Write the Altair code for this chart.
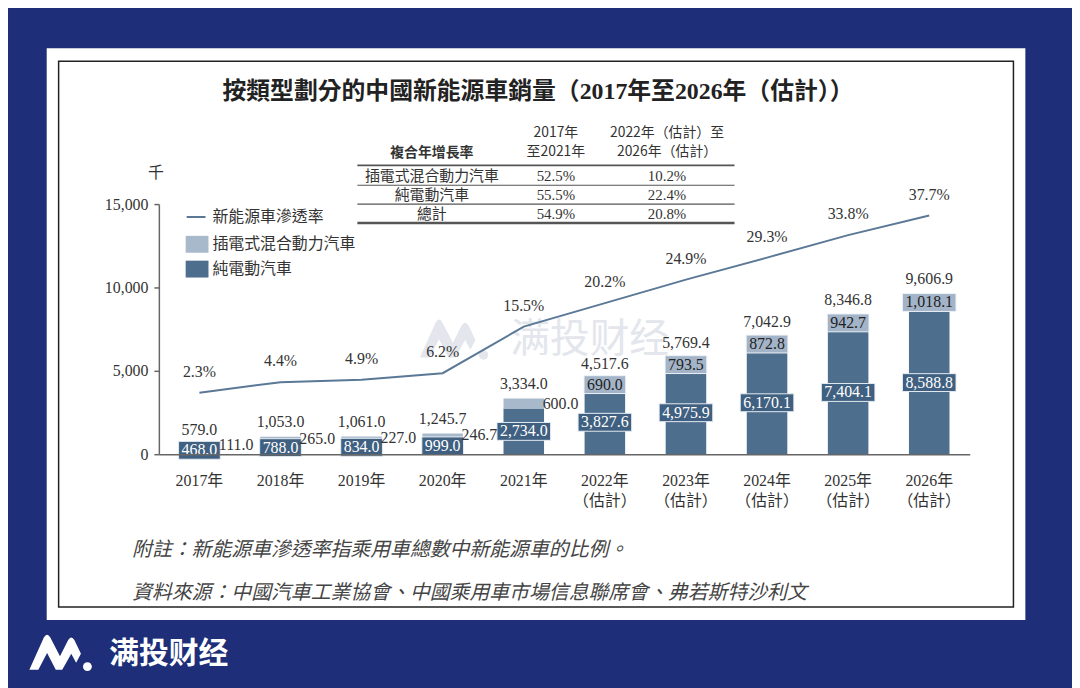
import altair as alt
import pandas as pd

# ---------------- data ----------------
years = ["2017年", "2018年", "2019年", "2020年", "2021年",
         "2022年|（估計）", "2023年|（估計）", "2024年|（估計）", "2025年|（估計）", "2026年|（估計）"]
bev = [468.0, 788.0, 834.0, 999.0, 2734.0, 3827.6, 4975.9, 6170.1, 7404.1, 8588.8]
phev = [111.0, 265.0, 227.0, 246.7, 600.0, 690.0, 793.5, 872.8, 942.7, 1018.1]
total = [579.0, 1053.0, 1061.0, 1245.7, 3334.0, 4517.6, 5769.4, 7042.9, 8346.8, 9606.9]
rate = [2.3, 4.4, 4.9, 6.2, 15.5, 20.2, 24.9, 29.3, 33.8, 37.7]
y_ticks = [0, 5000, 10000, 15000]

title_text = "按類型劃分的中國新能源車銷量（2017年至2026年（估計））"
legend_labels = ["新能源車滲透率", "插電式混合動力汽車", "純電動汽車"]
unit_label = "千"
table_head = ["複合年增長率", "2017年", "至2021年", "2022年（估計）至", "2026年（估計）"]
table_rows = ["插電式混合動力汽車", "純電動汽車", "總計"]
cagr_17_21 = ["52.5%", "55.5%", "54.9%"]
cagr_22_26 = ["10.2%", "22.4%", "20.8%"]
note_text = "附註：新能源車滲透率指乘用車總數中新能源車的比例。"
source_text = "資料來源：中國汽車工業協會、中國乘用車市場信息聯席會、弗若斯特沙利文"
brand_text = "满投财经"

# ---------------- styling ----------------
SERIF = "Liberation Serif, Noto Sans CJK TC"
CJK = "Noto Sans CJK TC"
BEV_C = "#4e6e8e"
PHEV_C = "#a9b9cc"
LINE_C = "#5b7896"
TXT = "#333333"
NAVY = "#1e2e78"
W, H = 817, 252
FS = 16


def text_w(s, fs=FS):
    return sum(0.5 if c.isdigit() else 0.25 for c in s) * fs


def box_shape(s, h=18, pad=6):
    w = text_w(s) + pad
    r = h / w
    return f"M-1,-{r:.4f} L1,-{r:.4f} L1,{r:.4f} L-1,{r:.4f} Z", w * w


df = pd.DataFrame({"lab": years, "bev": bev, "phev": phev, "total": total, "rate": rate})
df["bev_mid"] = df["bev"] / 2
df["phev_mid"] = (df["bev"] + df["total"]) / 2
df["bev_txt"] = [f"{v:,.1f}" for v in bev]
df["phev_txt"] = [f"{v:,.1f}" for v in phev]
df["tot_txt"] = [f"{v:,.1f}" for v in total]
df["rate_txt"] = [f"{v:.1f}%" for v in rate]
df["bev_shp"] = [box_shape(s)[0] for s in df["bev_txt"]]
df["bev_sz"] = [box_shape(s)[1] for s in df["bev_txt"]]
df["phev_shp"] = [box_shape(s)[0] for s in df["phev_txt"]]
df["phev_sz"] = [box_shape(s)[1] for s in df["phev_txt"]]
df["inner"] = [i >= 5 for i in range(len(years))]

base = alt.Chart(df)
X = alt.X("lab:N", sort=years,
          scale=alt.Scale(paddingInner=0.5, paddingOuter=0.25),
          axis=alt.Axis(title=None, labelAngle=0, ticks=False, domainColor="#666666",
                        domainWidth=1.5, labelExpr="split(datum.label, '|')",
                        labelFont=SERIF, labelFontSize=FS, labelColor=TXT,
                        labelPadding=19, labelLineHeight=20, zindex=1))
YS = alt.Scale(domain=[0, 15000])
RS = alt.Scale(domain=[-10, 40])


def yc(field, axis=None):
    return alt.Y(field, scale=YS, axis=axis)


one = pd.DataFrame({"t": [0]})


def txt(s, x, y, size=FS, align="center", font=SERIF, color=TXT, **kw):
    return alt.Chart(pd.DataFrame({"t": [s]})).mark_text(
        align=align, baseline="middle", font=font, fontSize=size, color=color, **kw
    ).encode(x=alt.value(x), y=alt.value(y), text="t:N")


def hrule(x1, x2, y, width=1.0, color="#555555"):
    return alt.Chart(one).mark_rule(color=color, strokeWidth=width).encode(
        x=alt.value(x1), x2=alt.value(x2), y=alt.value(y))


layers = []

# page panel and frame
layers.append(alt.Chart(one).mark_rect(fill="white").encode(
    x=alt.value(-113), x2=alt.value(873), y=alt.value(-157), y2=alt.value(419)))
layers.append(alt.Chart(one).mark_rect(fill="transparent", stroke="#222222", strokeWidth=1.5).encode(
    x=alt.value(-101), x2=alt.value(861), y=alt.value(-144), y2=alt.value(406)))

# watermark
LOGO = ("M-1,0.5 L-0.55,-0.5 Q-0.45,-0.68 -0.35,-0.5 L-0.05,0.08 L0.2,-0.42 "
        "Q0.3,-0.58 0.4,-0.42 L0.6,0.0 L0.45,0.28 L0.3,0.0 L0.02,0.5 L-0.18,0.5 "
        "L-0.45,-0.02 L-0.72,0.5 Z")
layers.append(alt.Chart(one).mark_point(shape=LOGO, filled=True, color="#e3e6ec", opacity=1, size=4900).encode(
    x=alt.value(298), y=alt.value(137)))
layers.append(alt.Chart(one).mark_point(shape="circle", filled=True, color="#e3e6ec", opacity=1, size=90).encode(
    x=alt.value(327), y=alt.value(152)))
layers.append(txt(brand_text, 434, 137, size=40, font="Noto Sans CJK SC", color="#e3e6ec"))

# title
layers.append(txt(title_text, 382, -113, size=24, fontWeight="bold", color="#222222"))

# CAGR table
layers.append(txt(table_head[0], 275, -51, size=14, font=CJK, fontWeight="bold"))
layers.append(txt(table_head[1], 400, -72, size=14, font=CJK))
layers.append(txt(table_head[2], 400, -52, size=14, font=CJK))
layers.append(txt(table_head[3], 512, -72, size=14, font=CJK))
layers.append(txt(table_head[4], 512, -52, size=14, font=CJK))
row_y = [-28, -9, 10]
for i in range(3):
    layers.append(txt(table_rows[i], 275, row_y[i], size=15))
    layers.append(txt(cagr_17_21[i], 400, row_y[i], size=15))
    layers.append(txt(cagr_22_26[i], 512, row_y[i], size=15))
layers.append(hrule(200, 580, -39, 2))
layers.append(hrule(200, 580, -19, 1.2))
layers.append(hrule(200, 580, 0, 1.2))
layers.append(hrule(200, 580, 19, 2.5))

# legend
layers.append(alt.Chart(one).mark_rule(color=LINE_C, strokeWidth=2).encode(
    x=alt.value(28), x2=alt.value(47), y=alt.value(13)))
layers.append(alt.Chart(one).mark_rect(fill=PHEV_C).encode(
    x=alt.value(27), x2=alt.value(50), y=alt.value(32), y2=alt.value(49)))
layers.append(alt.Chart(one).mark_rect(fill=BEV_C).encode(
    x=alt.value(27), x2=alt.value(50), y=alt.value(57), y2=alt.value(74)))
layers.append(txt(legend_labels[0], 54, 13, align="left"))
layers.append(txt(legend_labels[1], 54, 40, align="left"))
layers.append(txt(legend_labels[2], 54, 65, align="left"))
layers.append(txt(unit_label, -3, -31, size=16))

# bars
layers.append(base.mark_bar(color=BEV_C).encode(
    x=X,
    y=alt.Y("bev:Q", scale=YS,
            axis=alt.Axis(title=None, values=y_ticks, format=",.0f", grid=False,
                          labelFont=SERIF, labelFontSize=FS, labelColor=TXT,
                          tickSize=5, tickColor="#666666", tickWidth=1.5,
                          domainColor="#666666", domainWidth=1.5, labelPadding=6, zindex=1)),
    y2=alt.value(H)))
layers.append(base.mark_bar(color=PHEV_C).encode(x=X, y=yc("total:Q"), y2="bev:Q"))

# penetration line
layers.append(base.mark_line(color=LINE_C, strokeWidth=2).encode(
    x=X, y=alt.Y("rate:Q", scale=RS, axis=None)))
layers.append(base.mark_text(font=SERIF, fontSize=FS, color=TXT, dy=-21).encode(
    x=X, y=alt.Y("rate:Q", scale=RS, axis=None), text="rate_txt:N"))

# total labels
layers.append(base.mark_text(font=SERIF, fontSize=FS, color=TXT, dy=-15).encode(
    x=X, y=yc("total:Q"), text="tot_txt:N"))

# BEV labels with boxes
layers.append(base.mark_point(filled=True, fill="#3f6080", stroke="#e6ecf2", strokeWidth=1, opacity=1).encode(
    x=X, y=yc("bev_mid:Q"), shape=alt.Shape("bev_shp:N", scale=None), size=alt.Size("bev_sz:Q", scale=None)))
layers.append(base.mark_text(font=SERIF, fontSize=FS, color="white").encode(
    x=X, y=yc("bev_mid:Q"), text="bev_txt:N"))

# PHEV labels: inside (estimates) and outside (actuals)
inner = base.transform_filter("datum.inner")
outer = base.transform_filter("!datum.inner")
layers.append(inner.mark_point(filled=True, fill="#a3b4c8", stroke="#eef2f6", strokeWidth=1, opacity=1).encode(
    x=X, y=yc("phev_mid:Q"), shape=alt.Shape("phev_shp:N", scale=None), size=alt.Size("phev_sz:Q", scale=None)))
layers.append(inner.mark_text(font=SERIF, fontSize=FS, color="#222222").encode(
    x=X, y=yc("phev_mid:Q"), text="phev_txt:N"))
layers.append(outer.mark_text(font=SERIF, fontSize=FS, color=TXT, dx=37).encode(
    x=X, y=yc("phev_mid:Q"), text="phev_txt:N"))

# footnotes
layers.append(txt(note_text, -27, 349, size=20, align="left", font=CJK, color="#444444", fontStyle="italic"))
layers.append(txt(source_text, -27, 392, size=20, align="left", font=CJK, color="#444444", fontStyle="italic"))

# bottom brand
layers.append(alt.Chart(one).mark_point(shape=LOGO, filled=True, color="white", opacity=1, size=4225).encode(
    x=alt.value(-98), y=alt.value(453)))
layers.append(alt.Chart(one).mark_point(shape="circle", filled=True, color="white", opacity=1, size=80).encode(
    x=alt.value(-72), y=alt.value(466)))
layers.append(txt(brand_text, -50, 453, size=30, align="left", font="Noto Sans CJK SC",
                  color="white", fontWeight="bold"))

chart = alt.layer(*layers).properties(
    width=W, height=H,
    padding={"left": 152, "top": 195, "right": 103, "bottom": 233},
    autosize=alt.AutoSizeParams(type="none"),
    background=NAVY,
).resolve_scale(y="independent").configure_view(stroke=None)

chart.save("out.html", embed_options={"renderer": "svg", "actions": False})
